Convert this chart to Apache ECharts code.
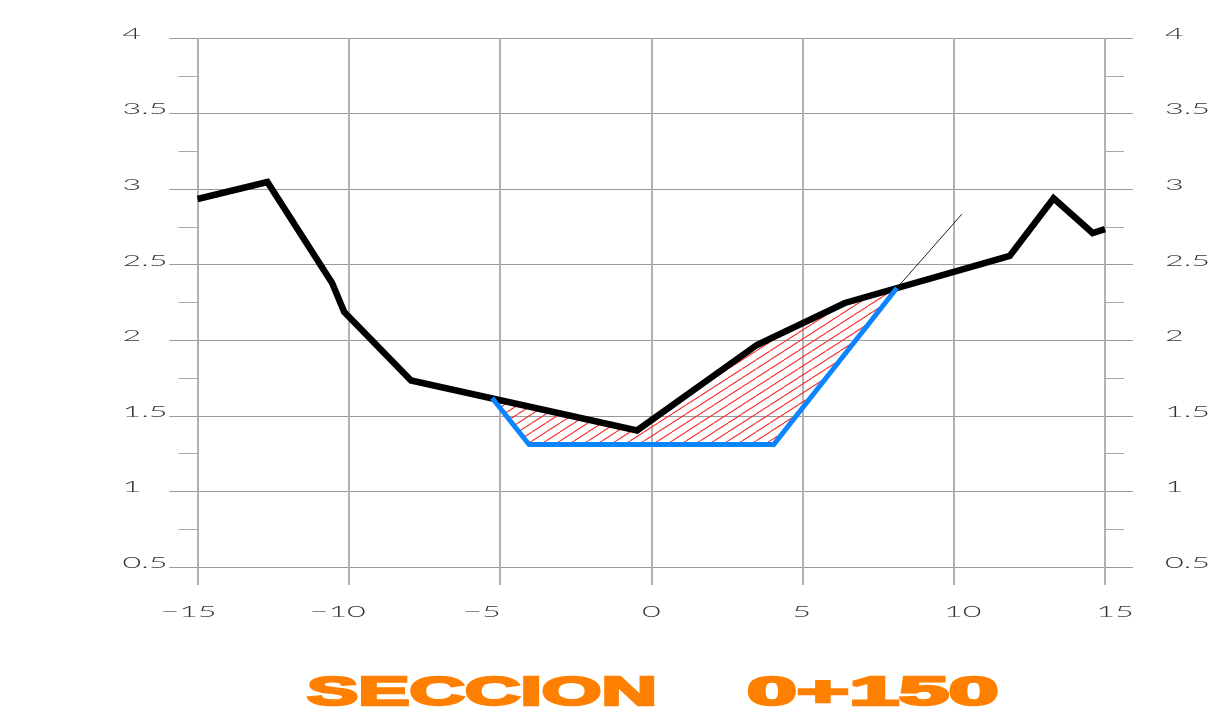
<!DOCTYPE html>
<html><head><meta charset="utf-8">
<style>html,body{margin:0;padding:0;background:#fff}#c{width:1212px;height:713px}</style>
<script src="https://cdn.jsdelivr.net/npm/echarts@6/dist/echarts.min.js"></script>
</head><body><div id="c"></div>
<script>
const groundX = [-15, -12.69, -10.55, -10.15, -7.94, -0.47, 3.49, 6.4, 11.85, 13.3, 14.59, 15];
const groundY = [2.935, 3.047, 2.379, 2.187, 1.734, 1.403, 1.969, 2.247, 2.558, 2.94, 2.71, 2.736];
const sectionX = [-5.26, -4.04, 4.05, 8.12];
const sectionY = [1.618, 1.31, 1.31, 2.346];
const slopeX = [8.12, 10.27];
const slopeY = [2.346, 2.835];
const surfaceX = [8.12, 6.4, 3.49, -0.47, -5.26];
const surfaceY = [2.346, 2.247, 1.969, 1.403, 1.618];
const xTicks = [-15, -10, -5, 0, 5, 10, 15];
const xTickNames = ['\u221215', '\u221210', '\u22125', '0', '5', '10', '15'];
const xNudge = [-9, -11, -18, 0, -1, 9, 10];
const yTicks = [4, 3.5, 3, 2.5, 2, 1.5, 1, 0.5];
const titleLeft = 'SECCION';
const titleRight = '0+150';

const zip = (a, b) => a.map((v, i) => [v, b[i]]);
const W = 14, H = 9;
const tile = document.createElement('canvas');
tile.width = W; tile.height = H;
const g = tile.getContext('2d');
g.strokeStyle = '#f52f2f'; g.lineWidth = 1.1;
[[0, 0], [W, 0], [-W, 0]].forEach(s => {
  g.beginPath(); g.moveTo(s[0], H); g.lineTo(W + s[0], 0); g.stroke();
});
const hatch = zip(sectionX, sectionY).concat(zip(surfaceX, surfaceY));
const gridH = '#9a9a9a', gridV = '#b2b2b2', tickC = '#a8a8a8';
const labelFont = '300 15px Lato, "Liberation Sans", sans-serif';
const textEl = (t, x, y, sx, align) => ({
  type: 'text', x, y, scaleX: sx, silent: true,
  style: { text: t, font: labelFont, fill: '#333', textAlign: align, textVerticalAlign: 'middle' }
});
const yAxisBase = {
  type: 'value', min: 0.5, max: 4, interval: 0.5,
  axisLine: { show: false, onZero: false },
  axisLabel: { show: false },
  axisTick: { show: true, length: 28, lineStyle: { color: gridH, width: 1 } },
  minorTick: { show: true, splitNumber: 2, length: 19, lineStyle: { color: tickC, width: 1 } },
  minorSplitLine: { show: false }
};
const titleStyle = { font: 'bold 40px "Liberation Sans", Arial, sans-serif', fill: '#ff8000', stroke: '#ff8000', lineWidth: 2.5, textAlign: 'left', textVerticalAlign: 'middle' };
const chart = echarts.init(document.getElementById('c'), null, { renderer: 'canvas' });
chart.setOption({
  animation: false,
  backgroundColor: '#fff',
  grid: { left: 197.5, right: 107, top: 38, bottom: 146 },
  xAxis: {
    type: 'value', min: -15, max: 15, interval: 5,
    axisLine: { show: false, onZero: false }, axisLabel: { show: false },
    axisTick: { show: true, length: 18, lineStyle: { color: gridV, width: 2 } },
    splitLine: { show: true, lineStyle: { color: gridV, width: 2 } }
  },
  yAxis: [
    Object.assign({}, yAxisBase, { position: 'left', splitLine: { show: true, lineStyle: { color: gridH, width: 1.2 } } }),
    Object.assign({}, yAxisBase, { position: 'right', splitLine: { show: false } })
  ],
  series: [
    { type: 'custom', z: 2, silent: true, clip: false, data: [0],
      renderItem: (p, api) => ({ type: 'polygon', silent: true,
        shape: { points: hatch.map(q => api.coord(q)) },
        style: { fill: { image: tile, repeat: 'repeat' }, stroke: null } }) },
    { type: 'line', z: 3, data: zip(slopeX, slopeY), showSymbol: false, silent: true,
      lineStyle: { color: '#222', width: 1 } },
    { type: 'line', z: 4, data: zip(groundX, groundY), showSymbol: false, silent: true,
      lineStyle: { color: '#000', width: 6.5, join: 'miter', cap: 'butt' } },
    { type: 'line', z: 5, data: zip(sectionX, sectionY), showSymbol: false, silent: true,
      lineStyle: { color: '#0a84ff', width: 5, join: 'miter', cap: 'butt' } },
    { type: 'custom', z: 6, silent: true, clip: false, data: xTicks,
      renderItem: (p, api) => {
        const i = p.dataIndex, c = api.coord([xTicks[i], 0.5]);
        return textEl(xTickNames[i], c[0] + xNudge[i], c[1] + 45, 2.15, 'center');
      } },
    { type: 'custom', z: 6, silent: true, clip: false, data: yTicks,
      renderItem: (p, api) => {
        const v = yTicks[p.dataIndex], a = api.coord([-15, v]), b = api.coord([15, v]);
        return { type: 'group', children: [
          textEl(String(v), a[0] - 75, a[1] - 4, 2.15, 'left'),
          textEl(String(v), b[0] + 60, b[1] - 4, 2.15, 'left')
        ] };
      } }
  ],
  graphic: [
    { type: 'text', x: 307, y: 693.5, scaleX: 1.92, silent: true, style: Object.assign({ text: titleLeft }, titleStyle) },
    { type: 'text', x: 747, y: 693.5, scaleX: 2.24, silent: true, style: Object.assign({ text: titleRight }, titleStyle) }
  ]
});
</script></body></html>
